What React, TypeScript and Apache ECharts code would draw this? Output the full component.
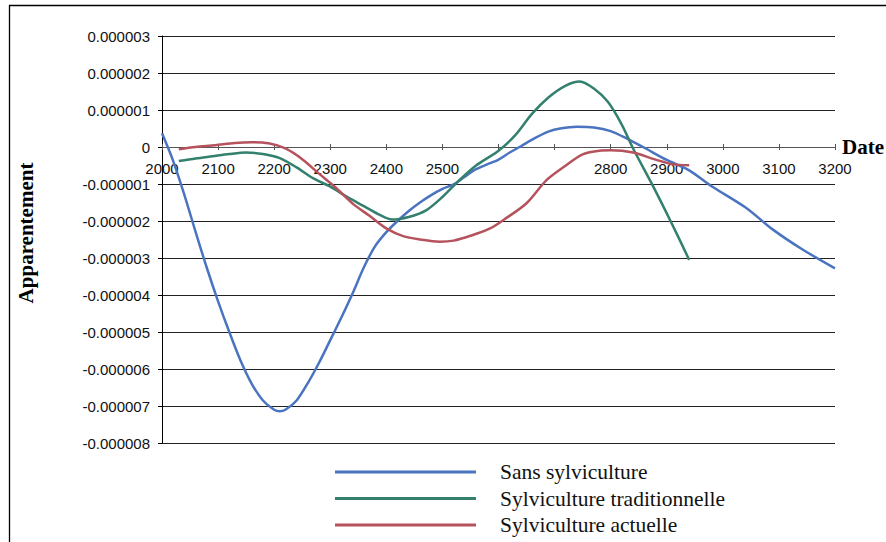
import React, { useEffect, useRef } from 'react';
import * as echarts from 'echarts';

// values are in units of 1e-6 (micro)
const UNIT = 1e-6;

const seriesNames = ['Sans sylviculture', 'Sylviculture traditionnelle', 'Sylviculture actuelle'];
const seriesColors = ['#4A74C0', '#33806E', '#B5525C'];

const sansYears = [2000, 2020, 2040, 2060, 2080, 2100, 2120, 2140, 2160, 2180, 2200, 2210, 2220, 2240, 2260, 2280, 2300, 2320, 2340, 2360, 2380, 2400, 2420, 2440, 2460, 2480, 2500, 2520, 2540, 2560, 2580, 2600, 2620, 2640, 2660, 2690, 2710, 2740, 2770, 2800, 2830, 2860, 2900, 2940, 2980, 3040, 3090, 3140, 3200];
const sansValues = [0.37, -0.38, -1.3, -2.3, -3.27, -4.17, -5.0, -5.77, -6.4, -6.85, -7.1, -7.14, -7.1, -6.85, -6.38, -5.83, -5.22, -4.6, -3.95, -3.25, -2.68, -2.3, -2.0, -1.73, -1.5, -1.3, -1.13, -1.01, -0.8, -0.6, -0.47, -0.34, -0.15, 0.02, 0.2, 0.42, 0.5, 0.55, 0.53, 0.43, 0.22, -0.02, -0.35, -0.63, -1.06, -1.63, -2.24, -2.75, -3.28];

const tradYears = [2030, 2060, 2090, 2120, 2150, 2180, 2210, 2240, 2270, 2300, 2330, 2360, 2390, 2410, 2440, 2470, 2500, 2530, 2560, 2600, 2630, 2660, 2690, 2720, 2745, 2770, 2795, 2820, 2840, 2876, 2910, 2940];
const tradValues = [-0.38, -0.31, -0.25, -0.19, -0.15, -0.19, -0.3, -0.55, -0.85, -1.07, -1.35, -1.6, -1.85, -1.96, -1.89, -1.72, -1.35, -0.9, -0.5, -0.1, 0.32, 0.9, 1.35, 1.66, 1.77, 1.58, 1.22, 0.6, -0.04, -1.07, -2.1, -3.05];

const actYears = [2030, 2060, 2095, 2130, 2160, 2190, 2220, 2250, 2280, 2310, 2340, 2370, 2400, 2430, 2460, 2495, 2520, 2550, 2585, 2610, 2650, 2686, 2720, 2750, 2780, 2800, 2840, 2880, 2912, 2940];
const actValues = [-0.06, 0.0, 0.05, 0.11, 0.13, 0.1, -0.04, -0.33, -0.72, -1.1, -1.53, -1.86, -2.2, -2.41, -2.5, -2.56, -2.53, -2.4, -2.2, -1.96, -1.52, -0.89, -0.5, -0.2, -0.1, -0.09, -0.15, -0.34, -0.47, -0.49];

const hiddenXLabels = [2600, 2700];

const X_MIN = 2000;
const X_MAX = 3200;
const X_STEP = 100;
const Y_MIN = -0.000008;
const Y_MAX = 0.000003;
const Y_STEP = 0.000001;

const CHART_W = 886;
const CHART_H = 542;
const GRID = { left: 162, right: 51, top: 36, bottom: 99 };
const PLOT_H = CHART_H - GRID.top - GRID.bottom;
// shift the x axis from the bottom edge up to the value 0 of the y axis
const X_AXIS_OFFSET = -(PLOT_H * (0 - Y_MIN)) / (Y_MAX - Y_MIN);

const pairs = (xs: number[], ys: number[]) => xs.map((x, i) => [x, ys[i] * UNIT]);

const allSeries = [
  { name: seriesNames[0], data: pairs(sansYears, sansValues), color: seriesColors[0] },
  { name: seriesNames[1], data: pairs(tradYears, tradValues), color: seriesColors[1] },
  { name: seriesNames[2], data: pairs(actYears, actValues), color: seriesColors[2] },
];

const legendRowCenters = [473, 499.5, 526];

export default function App() {
  const ref = useRef<HTMLDivElement>(null);
  useEffect(() => {
    if (!ref.current) return;
    const chart = echarts.init(ref.current, null, { renderer: 'svg' });
    const option: any = {
      animation: false,
      backgroundColor: '#ffffff',
      grid: { ...GRID },
      xAxis: [
        {
          type: 'value',
          min: X_MIN,
          max: X_MAX,
          interval: X_STEP,
          position: 'bottom',
          offset: X_AXIS_OFFSET,
          axisLine: { show: true, onZero: false, lineStyle: { color: '#555', width: 1 } },
          axisTick: { show: true, length: 3, lineStyle: { color: '#555' } },
          axisLabel: {
            margin: 14,
            color: '#111',
            fontFamily: '"Liberation Sans", Arial, sans-serif',
            fontSize: 15,
            formatter: (v: number) => (hiddenXLabels.includes(v) ? '' : String(v)),
          },
          splitLine: { show: false },
        },
        {
          type: 'value',
          min: X_MIN,
          max: X_MAX,
          interval: X_STEP,
          position: 'bottom',
          offset: X_AXIS_OFFSET,
          axisLine: { show: false, onZero: false },
          axisTick: { show: true, inside: true, length: 3, lineStyle: { color: '#555' } },
          axisLabel: { show: false },
          splitLine: { show: false },
        },
      ],
      yAxis: {
        type: 'value',
        min: Y_MIN,
        max: Y_MAX,
        interval: Y_STEP,
        axisLine: { show: true, onZero: false, lineStyle: { color: '#000', width: 1 } },
        axisTick: { show: true, length: 4, lineStyle: { color: '#000' } },
        axisLabel: {
          margin: 12,
          color: '#111',
          fontFamily: '"Liberation Sans", Arial, sans-serif',
          fontSize: 15,
          formatter: (v: number) => (Math.abs(v) < 1e-12 ? '0' : v.toFixed(6)),
        },
        splitLine: { show: true, lineStyle: { color: '#222', width: 1 } },
      },
      legend: allSeries.map((s, i) => ({
        data: [s.name],
        orient: 'vertical',
        left: 335,
        top: legendRowCenters[i] - 12,
        padding: 0,
        icon: 'rect',
        itemWidth: 141,
        itemHeight: 3,
        selectedMode: false,
        textStyle: {
          fontFamily: '"Liberation Serif", "Times New Roman", serif',
          fontSize: 21.5,
          color: '#111',
          padding: [0, 0, 0, 19],
        },
      })),
      graphic: [
        {
          type: 'rect',
          shape: { x: 9.5, y: 5.5, width: 1000, height: 1000 },
          style: { fill: 'none', stroke: '#000', lineWidth: 1.3 },
          silent: true,
        },
        {
          type: 'text',
          x: 26,
          y: 233,
          rotation: Math.PI / 2,
          style: {
            text: 'Apparentement',
            font: 'bold 21px "Liberation Serif", "Times New Roman", serif',
            fill: '#000',
            textAlign: 'center',
            textVerticalAlign: 'middle',
            align: 'center',
            verticalAlign: 'middle',
          },
        },
        {
          type: 'text',
          x: 842,
          y: 147,
          style: {
            text: 'Date',
            font: 'bold 21px "Liberation Serif", "Times New Roman", serif',
            fill: '#000',
            textAlign: 'left',
            textVerticalAlign: 'middle',
            align: 'left',
            verticalAlign: 'middle',
          },
        },
      ],
      series: allSeries.map((s) => ({
        name: s.name,
        type: 'line',
        data: s.data,
        smooth: 0.3,
        symbol: 'none',
        showSymbol: false,
        color: s.color,
        lineStyle: { color: s.color, width: 2.5 },
      })),
    };
    chart.setOption(option);
    return () => chart.dispose();
  }, []);
  return (
    <div
      ref={ref}
      style={{ position: 'fixed', left: 0, top: 0, width: CHART_W, height: CHART_H, background: '#fff' }}
    />
  );
}
